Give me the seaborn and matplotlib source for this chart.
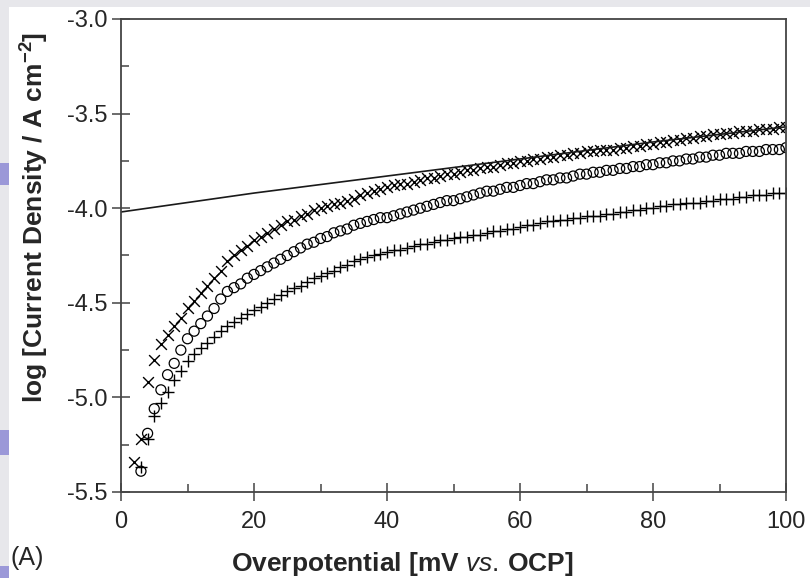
import matplotlib
matplotlib.use("Agg")
from matplotlib import pyplot as plt
from matplotlib.patches import Rectangle
from matplotlib.ticker import MultipleLocator
import pandas as pd
import seaborn as sns

# overpotential grid (mV vs. OCP) of the measured points
x_cross = list(range(2, 101))
x_circle = list(range(3, 101))
x_plus = list(range(3, 101))

# log current density, series drawn with 'x'
y_cross = [-5.34, -5.22, -4.92, -4.80, -4.72, -4.67, -4.62, -4.58, -4.53, -4.49,
           -4.45, -4.41, -4.37, -4.33, -4.28, -4.25, -4.22, -4.20, -4.17, -4.15,
           -4.13, -4.11, -4.09, -4.07, -4.06, -4.04, -4.03, -4.01, -4.00, -3.99,
           -3.98, -3.97, -3.96, -3.95, -3.93, -3.92, -3.91, -3.90, -3.89, -3.88,
           -3.87, -3.87, -3.86, -3.85, -3.84, -3.84, -3.83, -3.82, -3.82, -3.81,
           -3.80, -3.80, -3.79, -3.78, -3.78, -3.77, -3.76, -3.76, -3.75, -3.75,
           -3.74, -3.74, -3.73, -3.73, -3.72, -3.72, -3.71, -3.71, -3.70, -3.70,
           -3.69, -3.69, -3.69, -3.68, -3.68, -3.67, -3.67, -3.66, -3.66, -3.65,
           -3.65, -3.64, -3.64, -3.63, -3.63, -3.62, -3.62, -3.61, -3.61, -3.60,
           -3.60, -3.59, -3.59, -3.59, -3.58, -3.58, -3.58, -3.57, -3.57]

# series drawn with open circles
y_circle = [-5.39, -5.19, -5.06, -4.96, -4.88, -4.82, -4.75, -4.69, -4.65, -4.61,
            -4.57, -4.53, -4.48, -4.44, -4.42, -4.40, -4.37, -4.35, -4.33, -4.31,
            -4.29, -4.27, -4.25, -4.23, -4.21, -4.19, -4.18, -4.16, -4.15, -4.13,
            -4.12, -4.11, -4.09, -4.08, -4.07, -4.06, -4.05, -4.05, -4.04, -4.03,
            -4.02, -4.01, -4.00, -3.99, -3.98, -3.97, -3.96, -3.96, -3.95, -3.94,
            -3.93, -3.92, -3.91, -3.91, -3.90, -3.89, -3.89, -3.88, -3.87, -3.87,
            -3.86, -3.85, -3.85, -3.84, -3.84, -3.83, -3.82, -3.82, -3.81, -3.81,
            -3.80, -3.80, -3.79, -3.79, -3.78, -3.78, -3.77, -3.77, -3.76, -3.76,
            -3.75, -3.75, -3.74, -3.74, -3.73, -3.73, -3.72, -3.72, -3.71, -3.71,
            -3.71, -3.70, -3.70, -3.70, -3.69, -3.69, -3.69, -3.68]

# series drawn with '+'
y_plus = [-5.37, -5.22, -5.10, -5.03, -4.97, -4.91, -4.86, -4.81, -4.77, -4.74,
          -4.71, -4.68, -4.65, -4.62, -4.60, -4.58, -4.56, -4.54, -4.52, -4.50,
          -4.48, -4.46, -4.44, -4.42, -4.41, -4.39, -4.37, -4.36, -4.34, -4.33,
          -4.31, -4.30, -4.28, -4.27, -4.26, -4.25, -4.24, -4.23, -4.22, -4.22,
          -4.21, -4.20, -4.19, -4.19, -4.18, -4.17, -4.17, -4.16, -4.15, -4.15,
          -4.14, -4.14, -4.13, -4.12, -4.12, -4.11, -4.11, -4.10, -4.09, -4.09,
          -4.08, -4.07, -4.07, -4.06, -4.06, -4.05, -4.05, -4.04, -4.04, -4.04,
          -4.03, -4.03, -4.02, -4.02, -4.01, -4.01, -4.00, -4.00, -3.99, -3.99,
          -3.98, -3.98, -3.97, -3.97, -3.97, -3.96, -3.96, -3.95, -3.95, -3.95,
          -3.94, -3.94, -3.93, -3.93, -3.93, -3.92, -3.92, -3.92]

# solid line
x_line = [0, 20, 40, 60, 80, 100]
y_line = [-4.02, -3.92, -3.83, -3.74, -3.65, -3.57]

sns.set_style("ticks")
plt.rcParams['font.family'] = ['Liberation Sans', 'DejaVu Sans']
plt.rcParams['mathtext.fontset'] = 'custom'
plt.rcParams['mathtext.rm'] = 'Liberation Sans'
plt.rcParams['mathtext.it'] = 'Liberation Sans:italic'
plt.rcParams['mathtext.bf'] = 'Liberation Sans:bold'

fig = plt.figure(figsize=(8.1, 5.78), dpi=100)
fig.patch.set_facecolor("#e7e7eb")
# white slide panel and lavender bits at the left edge
fig.patches.append(Rectangle((9 / 810, 0), 1, 1 - 7 / 578, transform=fig.transFigure,
                             facecolor="white", edgecolor="none", zorder=0))
for y0, h in [(393, 22), (123, 25), (0, 12)]:
    fig.patches.append(Rectangle((0, y0 / 578), 9 / 810, h / 578, transform=fig.transFigure,
                                 facecolor="#9b98d8", edgecolor="none", zorder=1))

ax = fig.add_axes([121 / 810, 1 - 492 / 578, 665 / 810, 473 / 578])
ax.set_zorder(5)
ax.set_facecolor("white")

sns.lineplot(data=pd.DataFrame({"x": x_line, "y": y_line}), x="x", y="y",
             color="#1a1a1a", linewidth=1.2, ax=ax)
sns.scatterplot(x=x_cross, y=y_cross, marker="x", color="black", s=60,
                linewidth=1.0, ax=ax)
sns.scatterplot(x=x_circle, y=y_circle, marker="o", facecolor="none",
                edgecolor="black", s=52, linewidth=0.9, ax=ax)
sns.scatterplot(x=x_plus, y=y_plus, marker="+", color="black", s=75,
                linewidth=1.0, ax=ax)

ax.set_xlim(0, 100)
ax.set_ylim(-5.5, -3.0)
ax.xaxis.set_major_locator(MultipleLocator(20))
ax.xaxis.set_minor_locator(MultipleLocator(10))
ax.yaxis.set_major_locator(MultipleLocator(0.5))
ax.yaxis.set_minor_locator(MultipleLocator(0.25))
ax.yaxis.set_major_formatter(plt.FormatStrFormatter("%.1f"))

for side in ["top", "right", "bottom", "left"]:
    ax.spines[side].set_visible(True)
    ax.spines[side].set_color("#444444")
    ax.spines[side].set_linewidth(1.3)

ax.tick_params(which="major", direction="inout", length=13, width=1.1,
               color="#444444", labelsize=17, pad=3)
ax.tick_params(axis="x", which="major", pad=7)
ax.tick_params(which="minor", direction="in", length=6, width=1.1, color="#444444")

ax.set_xlabel(r"Overpotential [mV $\mathit{vs.}\,$OCP]", fontsize=19,
              fontweight="bold")
ax.set_ylabel(r"log [Current Density / A cm$^{\mathbf{-2}}$]", fontsize=19,
              fontweight="bold")
ax.xaxis.set_label_coords(0.4226, -0.123)
ax.yaxis.set_label_coords(-0.105, 0.581)
fig.text(10 / 810, 1 - 570 / 578, "(A)", fontsize=18, va="bottom", ha="left")

fig.savefig("out.png", dpi=100)
